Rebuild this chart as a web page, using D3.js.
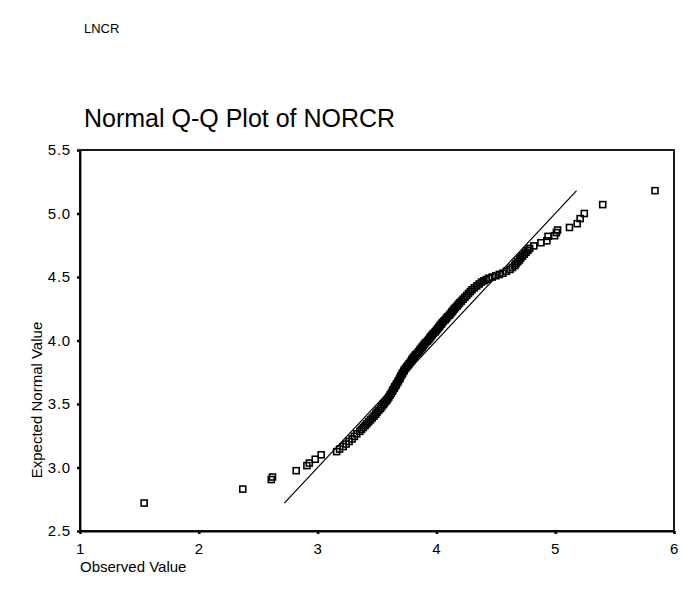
<!DOCTYPE html>
<html>
<head>
<meta charset="utf-8">
<script src="https://cdn.jsdelivr.net/npm/d3@7"></script>
<style>
    body { margin: 0; background: #ffffff; }
    text { font-family: Arial, "Liberation Sans", sans-serif; fill: #000000; }
</style>
</head>
<body>
<svg id="qqSvg" width="694" height="605"></svg>
<script>
var xTicks = [1, 2, 3, 4, 5, 6];
var yTicks = [2.5, 3.0, 3.5, 4.0, 4.5, 5.0, 5.5];

// observed value (x) and expected normal value (y), sorted
var observed = [1.54, 2.37, 2.61, 2.62, 2.82, 2.91, 2.93, 2.98, 3.03, 3.16,
    3.185, 3.215, 3.24, 3.265, 3.29, 3.31, 3.33, 3.355, 3.37, 3.385,
    3.40, 3.415, 3.43, 3.445, 3.46, 3.475, 3.49, 3.50, 3.515, 3.53,
    3.54, 3.555, 3.565, 3.58, 3.59, 3.60, 3.61, 3.62, 3.63, 3.635,
    3.645, 3.65, 3.66, 3.665, 3.675, 3.68, 3.69, 3.695, 3.70, 3.71,
    3.715, 3.725, 3.73, 3.74, 3.75, 3.76, 3.77, 3.78, 3.79, 3.795,
    3.805, 3.815, 3.825, 3.84, 3.85, 3.86, 3.87, 3.88, 3.89, 3.90,
    3.91, 3.925, 3.935, 3.945, 3.955, 3.965, 3.975, 3.99, 4.00, 4.01,
    4.02, 4.03, 4.04, 4.05, 4.06, 4.075, 4.085, 4.095, 4.11, 4.12,
    4.13, 4.14, 4.15, 4.16, 4.175, 4.185, 4.195, 4.21, 4.225, 4.24,
    4.255, 4.27, 4.285, 4.30, 4.32, 4.34, 4.36, 4.38, 4.40, 4.42,
    4.44, 4.47, 4.50, 4.53, 4.56, 4.59, 4.62, 4.64, 4.66, 4.67,
    4.685, 4.70, 4.71, 4.725, 4.74, 4.755, 4.77, 4.785, 4.82, 4.88,
    4.93, 4.94, 4.995, 5.01, 5.02, 5.12, 5.185, 5.21, 5.245, 5.40,
    5.84];
var expected = [2.72, 2.83, 2.905, 2.925, 2.975, 3.015, 3.035, 3.065, 3.10, 3.125,
    3.145, 3.165, 3.185, 3.205, 3.225, 3.245, 3.265, 3.285, 3.30, 3.315,
    3.33, 3.345, 3.36, 3.375, 3.39, 3.405, 3.42, 3.435, 3.45, 3.465,
    3.48, 3.495, 3.51, 3.525, 3.54, 3.555, 3.57, 3.585, 3.60, 3.612,
    3.624, 3.636, 3.648, 3.66, 3.672, 3.684, 3.696, 3.708, 3.72, 3.732,
    3.744, 3.756, 3.768, 3.78, 3.792, 3.804, 3.816, 3.828, 3.84, 3.852,
    3.864, 3.876, 3.888, 3.90, 3.912, 3.924, 3.936, 3.948, 3.96, 3.972,
    3.984, 3.996, 4.008, 4.02, 4.032, 4.044, 4.056, 4.068, 4.08, 4.092,
    4.104, 4.116, 4.128, 4.14, 4.152, 4.164, 4.176, 4.188, 4.20, 4.212,
    4.224, 4.236, 4.248, 4.26, 4.272, 4.284, 4.296, 4.31, 4.325, 4.34,
    4.355, 4.37, 4.385, 4.40, 4.415, 4.43, 4.445, 4.46, 4.47, 4.48,
    4.49, 4.50, 4.51, 4.52, 4.53, 4.545, 4.56, 4.575, 4.59, 4.605,
    4.62, 4.635, 4.65, 4.665, 4.68, 4.695, 4.71, 4.725, 4.745, 4.77,
    4.785, 4.82, 4.825, 4.85, 4.87, 4.89, 4.92, 4.96, 5.00, 5.07,
    5.18];

var svg = d3.select("#qqSvg");

var x = d3.scaleLinear().domain([1, 6]).range([80, 674]);
var y = d3.scaleLinear().domain([2.5, 5.5]).range([531, 150]);

svg.append("text")
    .attr("x", 84)
    .attr("y", 33)
    .attr("font-size", 13)
    .text("LNCR");

svg.append("text")
    .attr("x", 84)
    .attr("y", 127)
    .attr("font-size", 25)
    .text("Normal Q-Q Plot of NORCR");

// frame
svg.append("rect")
    .attr("x", x(1))
    .attr("y", y(5.5))
    .attr("width", x(6) - x(1))
    .attr("height", y(2.5) - y(5.5))
    .attr("fill", "none")
    .attr("stroke", "#000")
    .attr("stroke-width", 1.8);

var xAxis = svg.append("g")
    .attr("transform", `translate(0, ${y(2.5)})`)
    .call(d3.axisBottom(x).tickValues(xTicks).tickFormat(d3.format("d"))
        .tickSize(3).tickSizeOuter(0).tickPadding(9));

var yAxis = svg.append("g")
    .attr("transform", `translate(${x(1)}, 0)`)
    .call(d3.axisLeft(y).tickValues(yTicks).tickFormat(d3.format(".1f"))
        .tickSize(3).tickSizeOuter(0).tickPadding(6));

[xAxis, yAxis].forEach(function(g){
    g.select(".domain").attr("stroke-width", 1.8);
    g.selectAll(".tick line").attr("stroke-width", 2.5);
    g.selectAll(".tick text")
        .attr("font-size", 15)
        .attr("letter-spacing", 0.8)
        .attr("font-family", "Arial, 'Liberation Sans', sans-serif")
        .attr("fill", "#000");
});

// reference line y = x over the range of expected values
var ext = d3.extent(expected);
svg.append("line")
    .attr("x1", x(ext[0]))
    .attr("y1", y(ext[0]))
    .attr("x2", x(ext[1]))
    .attr("y2", y(ext[1]))
    .attr("stroke", "#000")
    .attr("stroke-width", 1.2);

var pts = observed.map((d, i) => ({obs: d, exp: expected[i]}));
var size = 6;
svg.append("g")
    .selectAll("rect")
    .data(pts)
    .join("rect")
    .attr("x", d => x(d.obs) - size / 2)
    .attr("y", d => y(d.exp) - size / 2)
    .attr("width", size)
    .attr("height", size)
    .attr("fill", "none")
    .attr("stroke", "#000")
    .attr("stroke-width", 1.6);

svg.append("text")
    .attr("x", 80)
    .attr("y", 572)
    .attr("font-size", 15)
    .text("Observed Value");

svg.append("text")
    .attr("transform", "translate(42, 400) rotate(-90)")
    .attr("text-anchor", "middle")
    .attr("font-size", 15)
    .text("Expected Normal Value");
</script>
</body>
</html>
